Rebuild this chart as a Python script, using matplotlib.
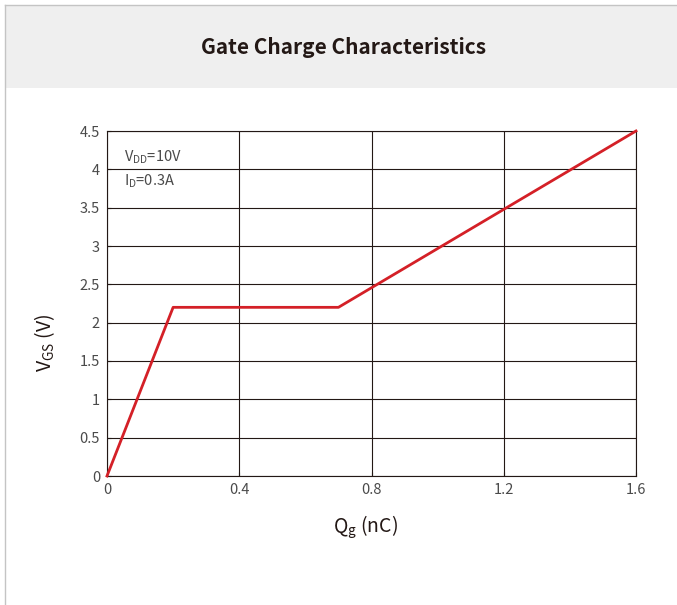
import matplotlib.pyplot as plt
from matplotlib.patches import Rectangle
from matplotlib.lines import Line2D

plt.rcParams['font.family'] = ['Noto Sans CJK SC', 'DejaVu Sans']
plt.rcParams['mathtext.fontset'] = 'custom'
plt.rcParams['mathtext.rm'] = 'Noto Sans CJK SC'
plt.rcParams['mathtext.it'] = 'Noto Sans CJK SC'

# Gate charge curve
qg = [0, 0.2, 0.7, 1.6]
vgs = [0, 2.2, 2.2, 4.5]
x_ticks = [0, 0.4, 0.8, 1.2, 1.6]
x_labels = ['0', '0.4', '0.8', '1.2', '1.6']
y_ticks = [0, 0.5, 1, 1.5, 2, 2.5, 3, 3.5, 4, 4.5]
y_labels = ['0', '0.5', '1', '1.5', '2', '2.5', '3', '3.5', '4', '4.5']

fig = plt.figure(figsize=(6.77, 6.05), dpi=100)
W, H = 677, 605

# header band and page border
fig.patches.append(Rectangle((5 / W, 1 - 88 / H), 1, 83 / H, transform=fig.transFigure,
                             facecolor='#efefef', edgecolor='none', zorder=0))
fig.lines.append(Line2D([5 / W, 5 / W], [0, 1 - 5 / H], transform=fig.transFigure,
                        color='#c4c4c4', lw=1))
fig.lines.append(Line2D([5 / W, 1], [1 - 5 / H, 1 - 5 / H], transform=fig.transFigure,
                        color='#c4c4c4', lw=1))
fig.text(344 / W, 1 - 47 / H, 'Gate Charge Characteristics', ha='center', va='center',
         fontsize=15, weight='bold', color='#231815')

ax = fig.add_axes([107 / W, 1 - 476 / H, (636 - 107) / W, (476 - 131) / H])
ax.plot(qg, vgs, color='#d42027', lw=2, zorder=3, clip_on=False)

ax.set_xlim(0, 1.6)
ax.set_ylim(0, 4.5)
ax.set_xticks(x_ticks)
ax.set_xticklabels(x_labels)
ax.set_yticks(y_ticks)
ax.set_yticklabels(y_labels)
ax.grid(True, color='#231815', lw=0.8)
for s in ax.spines.values():
    s.set_color('#231815')
    s.set_linewidth(0.8)
ax.tick_params(direction='in', length=3, width=0.8, colors='#231815',
               labelsize=10.5, labelcolor='#4a4a4a', pad=5)

ax.set_xlabel(r'Q$_\mathregular{g}$ (nC)', fontsize=14, color='#231815')
ax.set_ylabel(r'V$_\mathregular{GS}$ (V)', fontsize=14, color='#231815')
ax.xaxis.set_label_coords(0.488, -0.148)
ax.xaxis.label.set_va('center')
ax.yaxis.set_label_coords(-0.117, 0.386)
ax.yaxis.label.set_va('center')

ax.text(0.033, 0.925, r'V$_\mathregular{DD}$=10V', transform=ax.transAxes, fontsize=10.5,
        color='#4a4a4a', va='center')
ax.text(0.033, 0.855, r'I$_\mathregular{D}$=0.3A', transform=ax.transAxes, fontsize=10.5,
        color='#4a4a4a', va='center')

fig.savefig('out.png', dpi=100, facecolor='white')
